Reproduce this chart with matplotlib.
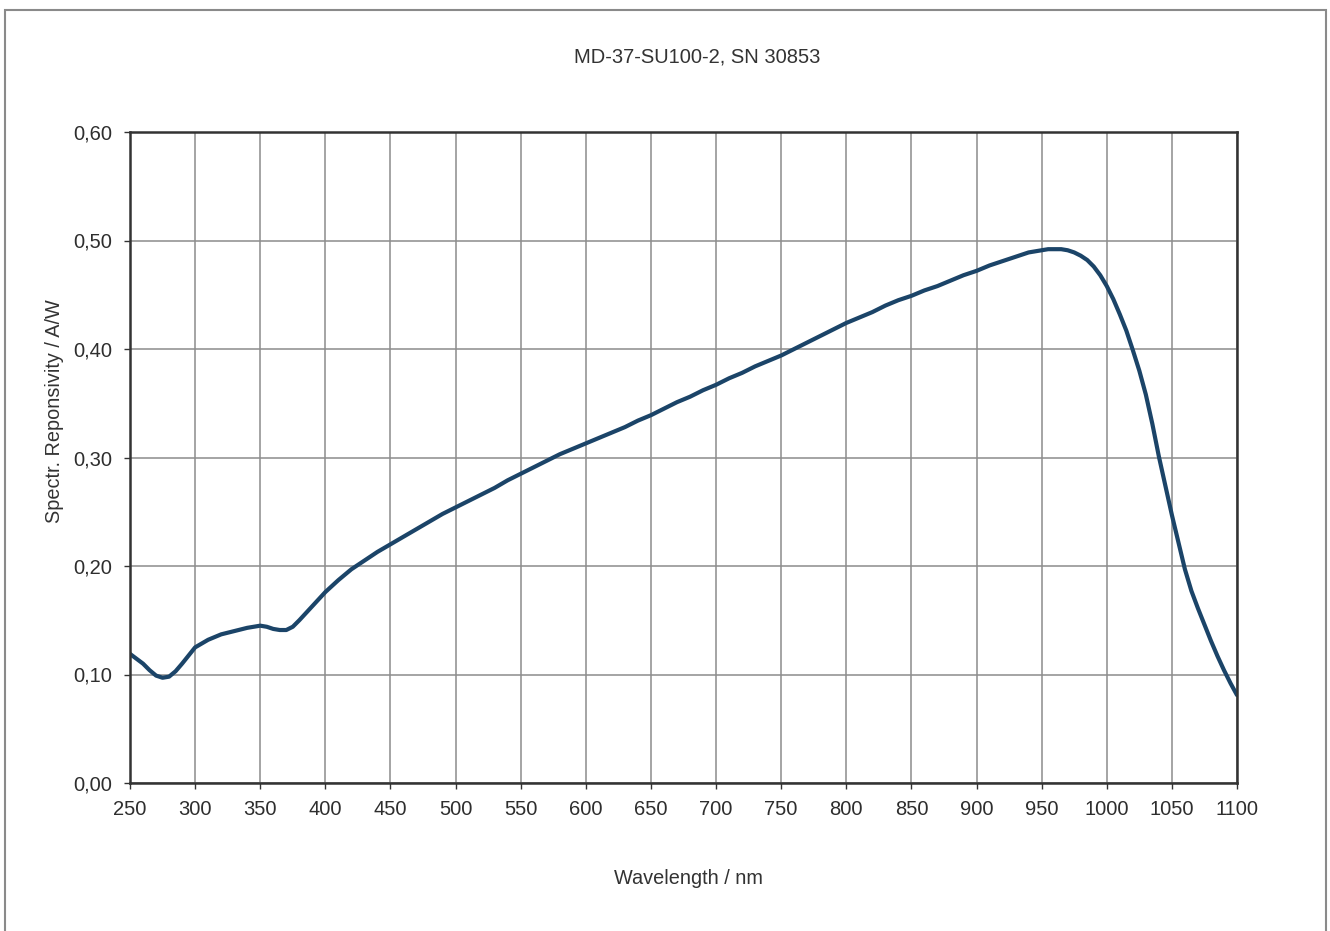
import matplotlib
matplotlib.use("Agg")
import matplotlib.pyplot as plt
from matplotlib.patches import Rectangle
from matplotlib.ticker import FuncFormatter

plt.rcParams['font.family'] = ['Liberation Sans', 'DejaVu Sans']

wavelength = [250, 260, 265, 270, 275, 280, 285, 290, 300, 310, 320, 330, 340, 350, 355, 360,
              365, 370, 375, 380, 390, 400, 410, 420, 430, 440, 450, 460, 470, 480, 490, 500,
              510, 520, 530, 540, 550, 560, 570, 580, 590, 600, 610, 620, 630, 640, 650, 660,
              670, 680, 690, 700, 710, 720, 730, 740, 750, 760, 770, 780, 790, 800, 810, 820,
              830, 840, 850, 860, 870, 880, 890, 900, 910, 920, 930, 940, 950, 955, 960, 965,
              970, 975, 980, 985, 990, 995, 1000, 1005, 1010, 1015, 1020, 1025, 1030, 1035,
              1040, 1045, 1050, 1055, 1060, 1065, 1070, 1075, 1080, 1085, 1090, 1095, 1100]
responsivity = [0.119, 0.110, 0.104, 0.099, 0.097, 0.098, 0.103, 0.110, 0.125, 0.132, 0.137,
                0.140, 0.143, 0.145, 0.144, 0.142, 0.141, 0.141, 0.144, 0.150, 0.163, 0.176,
                0.187, 0.197, 0.205, 0.213, 0.220, 0.227, 0.234, 0.241, 0.248, 0.254, 0.260,
                0.266, 0.272, 0.279, 0.285, 0.291, 0.297, 0.303, 0.308, 0.313, 0.318, 0.323,
                0.328, 0.334, 0.339, 0.345, 0.351, 0.356, 0.362, 0.367, 0.373, 0.378, 0.384,
                0.389, 0.394, 0.400, 0.406, 0.412, 0.418, 0.424, 0.429, 0.434, 0.440, 0.445,
                0.449, 0.454, 0.458, 0.463, 0.468, 0.472, 0.477, 0.481, 0.485, 0.489, 0.491,
                0.492, 0.492, 0.492, 0.491, 0.489, 0.486, 0.482, 0.476, 0.468, 0.458, 0.446,
                0.432, 0.417, 0.399, 0.380, 0.358, 0.331, 0.301, 0.274, 0.247, 0.222, 0.197,
                0.177, 0.161, 0.146, 0.131, 0.117, 0.104, 0.092, 0.081]

x_ticks = list(range(250, 1101, 50))
y_ticks = [0.0, 0.1, 0.2, 0.3, 0.4, 0.5, 0.6]

title = "MD-37-SU100-2, SN 30853"
xlabel = "Wavelength / nm"
ylabel = "Spectr. Reponsivity / A/W"

fig = plt.figure(figsize=(13.3, 9.31), dpi=100)
fig.patch.set_facecolor('white')

# outer frame
fig.patches.append(Rectangle((5/1330, -0.01), (1326-5)/1330, 1.01 - 10/931,
                             transform=fig.transFigure, fill=False,
                             edgecolor='#8a8a8a', linewidth=1.5))

ax = fig.add_axes([130/1330, 1-783/931, (1237-130)/1330, (783-132)/931])
ax.set_xlim(250, 1100)
ax.set_ylim(0, 0.6)
ax.set_xticks(x_ticks)
ax.set_yticks(y_ticks)
ax.yaxis.set_major_formatter(FuncFormatter(lambda v, p: f"{v:.2f}".replace('.', ',')))
ax.grid(True, color='#8c8c8c', linewidth=1.1)
ax.set_axisbelow(True)
for s in ax.spines.values():
    s.set_color('#333333')
    s.set_linewidth(1.8)
ax.tick_params(axis='both', direction='out', length=4, width=1, color='#333333',
               labelsize=14.5, labelcolor='#2e2e2e')
ax.tick_params(axis='x', pad=8)
ax.tick_params(axis='y', pad=9)

ax.plot(wavelength, responsivity, color='#1b4468', linewidth=3.0,
        solid_joinstyle='round', solid_capstyle='round', clip_on=True)

fig.text(697/1330, 1-57/931, title, ha='center', va='center', fontsize=14.5, color='#333333')
fig.text(688/1330, 1-879/931, xlabel, ha='center', va='center', fontsize=14.3, color='#333333')
fig.text(55/1330, 1-411/931, ylabel, ha='center', va='center', rotation=90,
         fontsize=14.3, color='#333333')

fig.savefig('out.png', dpi=100, facecolor='white')
